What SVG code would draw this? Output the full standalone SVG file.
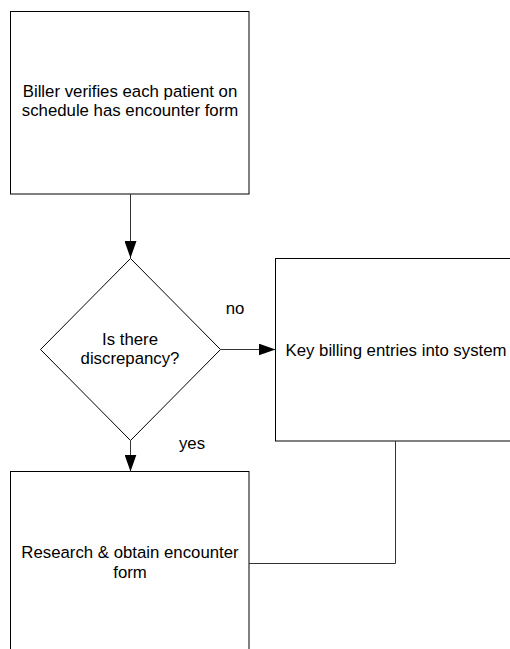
<svg xmlns="http://www.w3.org/2000/svg" width="510" height="649" viewBox="0 0 510 649">
<style>
.box{fill:#fff;stroke:#000;stroke-width:1}
.lbl{font-family:"Liberation Sans",Arial,sans-serif;font-size:16.8px;fill:#000;text-anchor:middle}
.edge{fill:none;stroke:#333;stroke-width:1}
</style>
<defs>
<marker id="arr" viewBox="0 0 17 12" refX="17" refY="6" markerWidth="17" markerHeight="12" markerUnits="userSpaceOnUse" orient="auto">
<path d="M0,0 L17,6 L0,12 Z" fill="#000"/>
</marker>
</defs>
<rect width="510" height="649" fill="#fff"/>
<g id="n1">
<rect class="box" x="10.5" y="11.5" width="238.5" height="182.5"/>
<text class="lbl" x="130" y="97">Biller verifies each patient on</text>
<text class="lbl" x="130" y="116">schedule has encounter form</text>
</g>
<g id="n2">
<path class="box" d="M130.5,258.5 L220.5,349.5 L130.5,440.5 L40.5,349.5 Z"/>
<text class="lbl" x="130" y="345">Is there</text>
<text class="lbl" x="130" y="364">discrepancy?</text>
</g>
<g id="n3">
<rect class="box" x="275.5" y="258.5" width="241" height="182.5"/>
<text class="lbl" x="396" y="356">Key billing entries into system</text>
</g>
<g id="n4">
<rect class="box" x="10.5" y="471.5" width="238.5" height="182.5"/>
<text class="lbl" x="130" y="558">Research &amp; obtain encounter</text>
<text class="lbl" x="130" y="578">form</text>
</g>
<g id="edges">
<line class="edge" x1="130.5" y1="194" x2="130.5" y2="258" marker-end="url(#arr)"/>
<line class="edge" x1="220.5" y1="349.5" x2="275.5" y2="349.5" marker-end="url(#arr)"/>
<line class="edge" x1="130.5" y1="441" x2="130.5" y2="471.5" marker-end="url(#arr)"/>
<polyline class="edge" points="395.5,441 395.5,563.5 249,563.5"/>
<text class="lbl" x="235" y="314">no</text>
<text class="lbl" x="192" y="449">yes</text>
</g>
</svg>
